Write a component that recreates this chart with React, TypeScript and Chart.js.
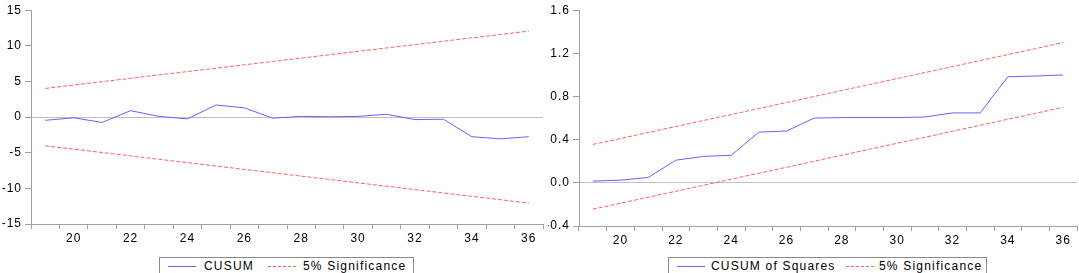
import React, { useEffect, useRef } from 'react';
import { Chart, registerables } from 'chart.js';

Chart.register(...registerables);

const periods = ['19', '20', '21', '22', '23', '24', '25', '26', '27', '28', '29', '30', '31', '32', '33', '34', '35', '36'];

const cusum = [-0.45, -0.1, -0.75, 0.9, 0.1, -0.25, 1.7, 1.3, -0.15, 0.1, 0.05, 0.1, 0.4, -0.35, -0.3, -2.75, -3.05, -2.75];
const cusumUpper = [4.02, 4.5, 4.97, 5.44, 5.92, 6.39, 6.86, 7.34, 7.81, 8.28, 8.75, 9.23, 9.7, 10.17, 10.65, 11.12, 11.59, 12.07];
const cusumLower = [-4.02, -4.5, -4.97, -5.44, -5.92, -6.39, -6.86, -7.34, -7.81, -8.28, -8.75, -9.23, -9.7, -10.17, -10.65, -11.12, -11.59, -12.07];

const cusumSq = [0.016, 0.025, 0.05, 0.21, 0.245, 0.255, 0.47, 0.48, 0.6, 0.605, 0.605, 0.605, 0.61, 0.648, 0.648, 0.983, 0.99, 1.0];
const sqUpper = [0.356, 0.411, 0.467, 0.522, 0.578, 0.633, 0.689, 0.744, 0.8, 0.856, 0.911, 0.967, 1.022, 1.078, 1.133, 1.189, 1.244, 1.3];
const sqLower = [-0.244, -0.189, -0.133, -0.078, -0.022, 0.033, 0.089, 0.144, 0.2, 0.256, 0.311, 0.367, 0.422, 0.478, 0.533, 0.589, 0.644, 0.7];

const cusumLabel = 'CUSUM';
const cusumSqLabel = 'CUSUM of Squares';
const sigLabel = '5% Significance';

const BLUE = '#6464ff';
const RED = '#ff6060';
const AXIS = '#a0a0a0';
const ZERO = '#c0c0c0';
const FONT = "'Liberation Sans', Arial, sans-serif";

const spacingPlugin = {
  id: 'spacing',
  beforeDraw(chart: any) {
    chart.ctx.letterSpacing = '1px';
  },
};

function makeConfig(
  main: number[], upper: number[], lower: number[], label: string,
  yMin: number, yMax: number, step: number, decimals: number,
  padTop: number, padRight: number, xHeight: number
): any {
  return {
    type: 'line',
    data: {
      labels: periods,
      datasets: [
        { label, data: main, borderColor: BLUE, borderWidth: 1, pointRadius: 0, tension: 0, fill: false },
        { label: sigLabel, data: upper, borderColor: RED, borderWidth: 1, borderDash: [4, 2], pointRadius: 0, fill: false },
        { label: sigLabel, data: lower, borderColor: RED, borderWidth: 1, borderDash: [4, 2], pointRadius: 0, fill: false },
      ],
    },
    options: {
      animation: false,
      responsive: false,
      devicePixelRatio: 1,
      layout: { padding: { top: padTop, right: padRight, left: 0, bottom: 0 } },
      plugins: { legend: { display: false }, tooltip: { enabled: false } },
      scales: {
        x: {
          type: 'category',
          offset: true,
          grid: { offset: true, drawOnChartArea: false, tickLength: 5, tickColor: AXIS, color: AXIS },
          border: { display: true, color: AXIS, width: 1 },
          ticks: {
            autoSkip: false,
            maxRotation: 0,
            padding: 2,
            color: '#000',
            font: { family: FONT, size: 12 },
            callback: (_v: any, i: number) => (Number(periods[i]) % 2 === 0 ? periods[i] : ''),
          },
          afterFit: (s: any) => { s.height = xHeight; },
        },
        y: {
          min: yMin,
          max: yMax,
          grid: {
            drawOnChartArea: true,
            tickLength: 6,
            tickColor: AXIS,
            color: (c: any) => (c.tick && Math.abs(c.tick.value) < 1e-9 ? ZERO : 'rgba(0,0,0,0)'),
          },
          border: { display: true, color: AXIS, width: 1 },
          ticks: {
            stepSize: step,
            padding: 3,
            color: '#000',
            font: { family: FONT, size: 12 },
            callback: (v: any) => Number(v).toFixed(decimals),
          },
          afterFit: (s: any) => { s.width = 31; },
        },
      },
    },
    plugins: [spacingPlugin],
  };
}

function Legend({ left, width, mainLabel, textLeft, redLeft, sigLeft }: any) {
  const base: React.CSSProperties = { position: 'absolute', top: 0 };
  return (
    <div style={{ position: 'absolute', left, top: 257, width, height: 22, border: '1px solid #8a8a8a', boxSizing: 'border-box', background: '#fff' }}>
      <div style={{ ...base, left: 8, top: 8, width: 28, borderTop: `1px solid ${BLUE}` }} />
      <div style={{ ...base, left: textLeft, top: 1, fontSize: 12, letterSpacing: '1.2px', fontFamily: FONT, color: '#000', whiteSpace: 'nowrap', lineHeight: '15px' }}>{mainLabel}</div>
      <div style={{ ...base, left: redLeft, top: 8, width: 28, borderTop: `1px dashed ${RED}` }} />
      <div style={{ ...base, left: sigLeft, top: 1, fontSize: 12, letterSpacing: '1.2px', fontFamily: FONT, color: '#000', whiteSpace: 'nowrap', lineHeight: '15px' }}>{sigLabel}</div>
    </div>
  );
}

export default function App() {
  const leftRef = useRef<HTMLCanvasElement>(null);
  const rightRef = useRef<HTMLCanvasElement>(null);

  useEffect(() => {
    const c1 = new Chart(leftRef.current as HTMLCanvasElement,
      makeConfig(cusum, cusumUpper, cusumLower, cusumLabel, -15, 15, 5, 0, 8, 5, 26));
    const c2 = new Chart(rightRef.current as HTMLCanvasElement,
      makeConfig(cusumSq, sqUpper, sqLower, cusumSqLabel, -0.4, 1.6, 0.4, 1, 10, 2, 24));
    return () => { c1.destroy(); c2.destroy(); };
  }, []);

  return (
    <div style={{ position: 'fixed', left: 0, top: 0, width: 1079, height: 273, background: '#fff', overflow: 'hidden' }}>
      <canvas ref={leftRef} width={548} height={250} style={{ position: 'absolute', left: 0, top: 0, width: 548, height: 250 }} />
      <canvas ref={rightRef} width={531} height={250} style={{ position: 'absolute', left: 548, top: 0, width: 531, height: 250 }} />
      <Legend left={159} width={255} mainLabel={cusumLabel} textLeft={44} redLeft={108} sigLeft={143} />
      <Legend left={668} width={319} mainLabel={cusumSqLabel} textLeft={42} redLeft={177} sigLeft={210} />
    </div>
  );
}
